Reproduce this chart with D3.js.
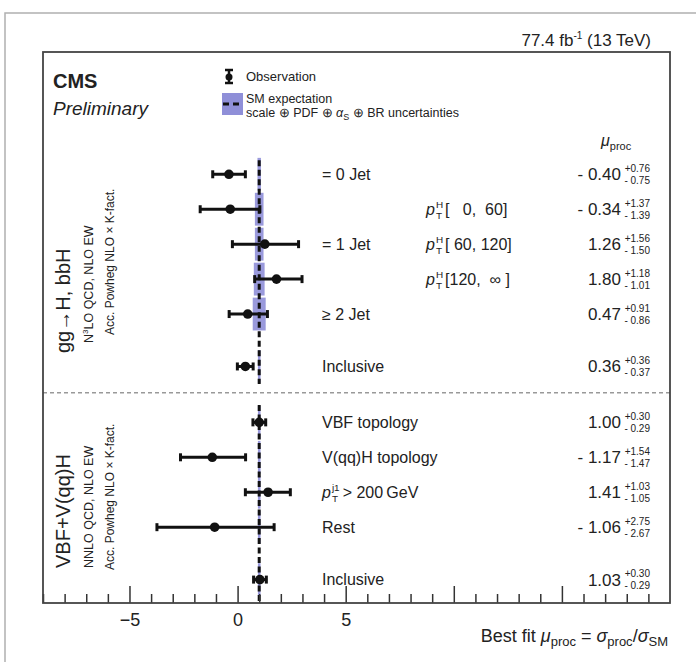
<!DOCTYPE html>
<html>
<head>
<meta charset="utf-8">
<script src="https://cdn.jsdelivr.net/npm/d3@7"></script>
<style>
  body { margin: 0; background: #fff; }
  svg text { font-family: "Liberation Sans", Arial, sans-serif; fill: #222; }
  .pre { white-space: pre; }
</style>
</head>
<body>
<svg id="chart" width="696" height="662"></svg>
<script>
const catLabels = ["= 0 Jet", "", "= 1 Jet", "", "\u2265 2 Jet", "Inclusive",
                   "VBF topology", "V(qq)H topology", "PTJ1", "Rest", "Inclusive"];
const ptBins = ["", "[   0,  60]", "[ 60, 120]", "[120,  \u221e ]", "", "", "", "", "", "", ""];
const muBest = [-0.40, -0.34, 1.26, 1.80, 0.47, 0.36, 1.00, -1.17, 1.41, -1.06, 1.03];
const errUp = [0.76, 1.37, 1.56, 1.18, 0.91, 0.36, 0.30, 1.54, 1.03, 2.75, 0.30];
const errDown = [0.75, 1.39, 1.50, 1.01, 0.86, 0.37, 0.29, 1.47, 1.05, 2.67, 0.29];
const rowSlot = [0, 1, 2, 3, 4, 5.5, 7.1, 8.1, 9.1, 10.1, 11.6];
// theory band half widths around SM = 1
const smUnc = [0.08, 0.2, 0.2, 0.25, 0.3, 0.06, 0.06, 0.06, 0.06, 0.06, 0.06];
const groupSpan = [[-0.4, 6.0], [6.6, 12.27]];
const separatorSlot = 6.25;
const majorTicks = [-5, 0, 5, 10, 15];
const shownTicks = [-5, 0, 5];

const svg = d3.select("#chart");
const margin = {left: 43, right: 670, top: 52, bottom: 603};

const x = d3.scaleLinear().domain([-9, 20]).range([margin.left, margin.right]);
const y = d3.scaleLinear().domain([-3.5, 12.27]).range([margin.top, margin.bottom]);

// outer light frame
svg.append("rect")
    .attr("x", 5).attr("y", 13).attr("width", 740).attr("height", 700)
    .attr("fill", "none").attr("stroke", "#b0b0b0").attr("stroke-width", 1.5);

// theory band
svg.append("g").selectAll("rect")
    .data(muBest.map((d, i) => i))
    .join("rect")
    .attr("x", i => x(1 - smUnc[i]))
    .attr("width", i => x(1 + smUnc[i]) - x(1 - smUnc[i]))
    .attr("y", i => y(rowSlot[i] - 0.47))
    .attr("height", i => y(rowSlot[i] + 0.47) - y(rowSlot[i] - 0.47))
    .attr("fill", "#8f8fd8")
    .attr("opacity", 0.9);

// SM dashed line, one per group
svg.append("g").selectAll("line")
    .data(groupSpan)
    .join("line")
    .attr("x1", x(1)).attr("x2", x(1))
    .attr("y1", d => y(d[0])).attr("y2", d => y(d[1]))
    .attr("stroke", "#111").attr("stroke-width", 3)
    .attr("stroke-dasharray", "6,3.5");

// separator between the two groups
svg.append("line")
    .attr("x1", margin.left).attr("x2", margin.right)
    .attr("y1", y(separatorSlot)).attr("y2", y(separatorSlot))
    .attr("stroke", "#999").attr("stroke-width", 1.5)
    .attr("stroke-dasharray", "4,3");

// error bars
let bars = svg.append("g").selectAll("g")
    .data(muBest.map((d, i) => i))
    .join("g");
bars.append("line")
    .attr("x1", i => x(muBest[i] - errDown[i]))
    .attr("x2", i => x(muBest[i] + errUp[i]))
    .attr("y1", i => y(rowSlot[i])).attr("y2", i => y(rowSlot[i]))
    .attr("stroke", "#111").attr("stroke-width", 3);
for (let side of [-1, 1]) {
    bars.append("line")
        .attr("x1", i => x(side < 0 ? muBest[i] - errDown[i] : muBest[i] + errUp[i]))
        .attr("x2", i => x(side < 0 ? muBest[i] - errDown[i] : muBest[i] + errUp[i]))
        .attr("y1", i => y(rowSlot[i]) - 4).attr("y2", i => y(rowSlot[i]) + 4)
        .attr("stroke", "#111").attr("stroke-width", 3);
}
bars.append("circle")
    .attr("cx", i => x(muBest[i]))
    .attr("cy", i => y(rowSlot[i]))
    .attr("r", 4.8)
    .attr("fill", "#111");

// helper: italic base with stacked sup/sub, returns end x
function stacked(g, x0, y0, base, sup, sub, size, italic) {
    let t = g.append("text").attr("x", x0).attr("y", y0)
        .attr("font-size", size).style("font-style", italic ? "italic" : "normal").text(base);
    let w = t.node().getComputedTextLength();
    let s1 = g.append("text").attr("x", x0 + w + 1).attr("y", y0 - size * 0.42)
        .attr("font-size", size * 0.62).text(sup);
    let s2 = g.append("text").attr("x", x0 + w + 1).attr("y", y0 + size * 0.28)
        .attr("font-size", size * 0.62).text(sub);
    return x0 + w + 1 + Math.max(s1.node().getComputedTextLength(), s2.node().getComputedTextLength());
}

// category labels
let labelG = svg.append("g");
catLabels.forEach((lab, i) => {
    let yy = y(rowSlot[i]) + 5.5;
    if (lab === "PTJ1") {
        let xe = stacked(labelG, 322, yy, "p", "j1", "T", 16, true);
        labelG.append("text").attr("x", xe + 3).attr("y", yy).attr("font-size", 16)
            .text("> 200\u2009GeV");
    } else if (lab) {
        labelG.append("text").attr("x", 322).attr("y", yy).attr("font-size", 16).text(lab);
    }
    if (ptBins[i]) {
        let xe = stacked(labelG, 426, yy, "p", "H", "T", 16, true);
        labelG.append("text").attr("class", "pre").attr("x", xe + 2).attr("y", yy)
            .attr("font-size", 16).text(ptBins[i]);
    }
});

// fitted values on the right
let fmt = v => (v < 0 ? "- " : "") + d3.format(".2f")(Math.abs(v));
let valG = svg.append("g");
muBest.forEach((m, i) => {
    let yy = y(rowSlot[i]) + 6;
    valG.append("text").attr("x", 621).attr("y", yy).attr("text-anchor", "end")
        .attr("font-size", 17).text(fmt(m));
    valG.append("text").attr("x", 650).attr("y", yy - 8.5).attr("text-anchor", "end")
        .attr("font-size", 10).text("+" + d3.format(".2f")(errUp[i]));
    valG.append("text").attr("x", 650).attr("y", yy + 3.5).attr("text-anchor", "end")
        .attr("font-size", 10).text("- " + d3.format(".2f")(errDown[i]));
});
// mu_proc header
let hd = valG.append("text").attr("x", 601).attr("y", 146).attr("font-size", 16);
hd.append("tspan").style("font-style", "italic").text("\u03bc");
hd.append("tspan").attr("dy", 4).attr("font-size", 11).text("proc");

// axis with ticks pointing up
let axisMajor = d3.axisBottom(x).tickValues(majorTicks).tickSize(-17).tickPadding(10)
    .tickFormat(d => shownTicks.includes(d) ? d3.format("")(d) : "");
let gAx = svg.append("g").attr("transform", `translate(0,${margin.bottom})`).call(axisMajor);
gAx.select(".domain").remove();
gAx.selectAll(".tick line").attr("stroke", "#333").attr("stroke-width", 1.5);
gAx.selectAll(".tick text").attr("font-size", 18).attr("fill", "#222")
    .attr("font-family", "Liberation Sans, Arial, sans-serif");

let minorVals = d3.range(-9, 21).filter(d => d % 5 !== 0);
let gMinor = svg.append("g").attr("transform", `translate(0,${margin.bottom})`)
    .call(d3.axisBottom(x).tickValues(minorVals).tickSize(-9).tickFormat(""));
gMinor.select(".domain").remove();
gMinor.selectAll(".tick line").attr("stroke", "#333").attr("stroke-width", 1.5);

// plot frame
svg.append("rect")
    .attr("x", margin.left).attr("y", margin.top)
    .attr("width", margin.right - margin.left).attr("height", margin.bottom - margin.top)
    .attr("fill", "none").attr("stroke", "#444").attr("stroke-width", 1.8);

// axis title
let xt = svg.append("text").attr("x", 668).attr("y", 642).attr("text-anchor", "end")
    .attr("font-size", 18);
xt.append("tspan").text("Best fit ");
xt.append("tspan").style("font-style", "italic").text("\u03bc");
xt.append("tspan").attr("dy", 4).attr("font-size", 13).text("proc");
xt.append("tspan").attr("dy", -4).text(" = ");
xt.append("tspan").style("font-style", "italic").text("\u03c3");
xt.append("tspan").attr("dy", 4).attr("font-size", 13).text("proc");
xt.append("tspan").attr("dy", -4).text("/");
xt.append("tspan").style("font-style", "italic").text("\u03c3");
xt.append("tspan").attr("dy", 4).attr("font-size", 13).text("SM");

// luminosity label
let lumi = svg.append("text").attr("x", 651).attr("y", 46).attr("text-anchor", "end")
    .attr("font-size", 17);
lumi.append("tspan").text("77.4 fb");
lumi.append("tspan").attr("dy", -7).attr("font-size", 10).text("-1");
lumi.append("tspan").attr("dy", 7).text(" (13 TeV)");

// CMS Preliminary
svg.append("text").attr("x", 53).attr("y", 88).attr("font-size", 20)
    .attr("font-weight", "bold").text("CMS");
svg.append("text").attr("x", 53).attr("y", 115).attr("font-size", 19)
    .style("font-style", "italic").text("Preliminary");

// legend
let leg = svg.append("g");
leg.append("line").attr("x1", 229).attr("x2", 229).attr("y1", 70).attr("y2", 83)
    .attr("stroke", "#111").attr("stroke-width", 2.5);
leg.append("line").attr("x1", 225).attr("x2", 233).attr("y1", 70).attr("y2", 70)
    .attr("stroke", "#111").attr("stroke-width", 2.5);
leg.append("line").attr("x1", 225).attr("x2", 233).attr("y1", 83).attr("y2", 83)
    .attr("stroke", "#111").attr("stroke-width", 2.5);
leg.append("circle").attr("cx", 229).attr("cy", 77).attr("r", 3.5).attr("fill", "#111");
leg.append("text").attr("x", 246).attr("y", 81).attr("font-size", 13).text("Observation");

leg.append("rect").attr("x", 222).attr("y", 93).attr("width", 21).attr("height", 22)
    .attr("fill", "#8f8fd8");
leg.append("line").attr("x1", 223).attr("x2", 243).attr("y1", 104).attr("y2", 104)
    .attr("stroke", "#111").attr("stroke-width", 3).attr("stroke-dasharray", "6,4");
leg.append("text").attr("x", 246).attr("y", 103).attr("font-size", 12.5).text("SM expectation");
let lt = leg.append("text").attr("x", 246).attr("y", 117).attr("font-size", 12.5);
lt.append("tspan").text("scale \u2295 PDF \u2295 ");
lt.append("tspan").style("font-style", "italic").text("\u03b1");
lt.append("tspan").attr("dy", 3).attr("font-size", 9).text("S");
lt.append("tspan").attr("dy", -3).text(" \u2295 BR uncertainties");

// rotated group labels
function vText(xx, yy, size) {
    return svg.append("text").attr("transform", `translate(${xx},${yy}) rotate(-90)`)
        .attr("font-size", size);
}
vText(70, 353, 20).text("gg\u2192H, bbH");
let g2 = vText(93, 343, 12.5);
g2.append("tspan").text("N");
g2.append("tspan").attr("dy", -5).attr("font-size", 8).text("3");
g2.append("tspan").attr("dy", 5).text("LO QCD, NLO EW");
vText(114, 335, 12).text("Acc. Powheg NLO \u00d7 K-fact.");

vText(70, 568, 20).text("VBF+V(qq)H");
vText(93, 568, 12.5).text("NNLO QCD, NLO EW");
vText(114, 570, 12).text("Acc. Powheg NLO \u00d7 K-fact.");
</script>
</body>
</html>
